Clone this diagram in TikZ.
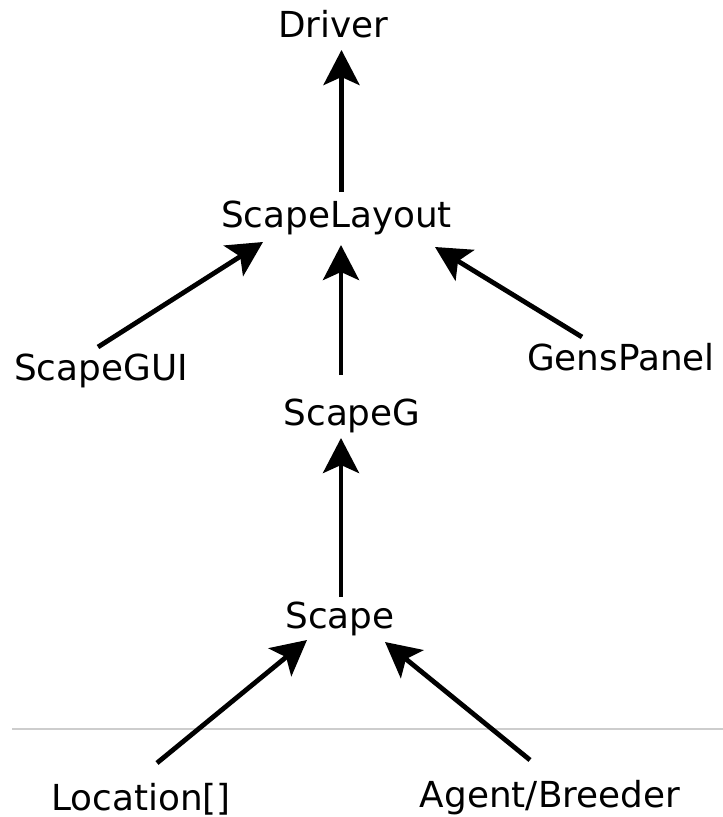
\documentclass[tikz,border=0pt]{standalone}
\usepackage{fontspec}
\setmainfont{DejaVu Sans}
\usetikzlibrary{arrows.meta,calc}
\definecolor{rulegray}{RGB}{205,205,205}
\begin{document}
\begin{tikzpicture}[x=1pt,y=-1pt,
  lbl/.style={inner sep=0pt, anchor=base, font=\fontsize{35.8}{43}\selectfont},
  arr/.style={-{Stealth[length=35pt,width=36pt,inset=8pt]}, line width=4.8pt, black}]
\useasboundingbox (0,0) rectangle (723,817);
\node[lbl] (driver) at (333.5,37) {Driver};
\node[lbl] (layout) at (336.5,227) {ScapeLayout};
\node[lbl] (gui)    at (101,380) {ScapeGUI};
\node[lbl] (gens)   at (621,370) {GensPanel};
\node[lbl] (scapeg) at (352,425) {ScapeG};
\node[lbl] (scape)  at (340,628) {Scape};
\node[lbl] (loc)    at (141,810) {Location[]};
\node[lbl] (agent)  at (550,807) {Agent/Breeder};
\draw[rulegray, line width=1.2pt] (12,729) -- (723,729);
\draw[arr] ($(layout.base)+(5,-35)$) -- ($(driver.base)+(8,13)$);
\draw[arr] ($(gui.base)+(-3,-33)$) -- ($(layout.base)+(-73.5,15)$);
\draw[arr] ($(scapeg.base)+(-11,-50)$) -- ($(layout.base)+(4.5,18)$);
\draw[arr] ($(gens.base)+(-39,-33)$) -- ($(layout.base)+(98.5,20)$);
\draw[arr] ($(scape.base)+(1,-31)$) -- ($(scapeg.base)+(-11,13)$);
\draw[arr] ($(loc.base)+(16,-47)$) -- ($(scape.base)+(-33,12)$);
\draw[arr] ($(agent.base)+(-20,-47)$) -- ($(scape.base)+(45,14)$);
\end{tikzpicture}
\end{document}
